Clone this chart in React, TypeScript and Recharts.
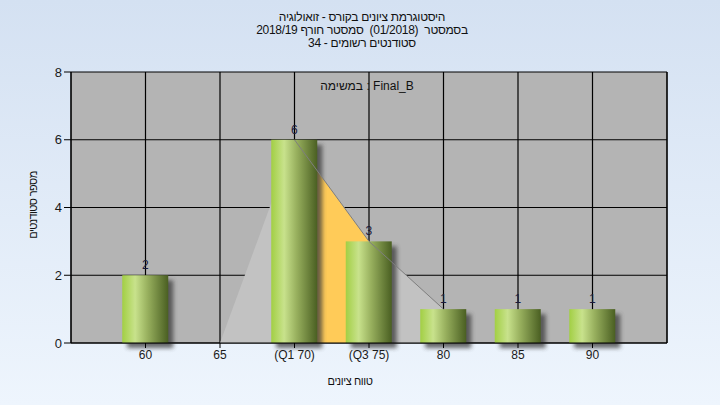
import { ComposedChart, Bar, Area, Line, XAxis, YAxis, CartesianGrid, LabelList } from 'recharts';

// grade buckets and number of students in each
const scores = [60, 65, 70, 75, 80, 85, 90];
const students = [2, 0, 6, 3, 1, 1, 1];
// distribution outline (gray) and the Q1-Q3 band (orange)
const curve = [null, 0, 6, 3, 1, null, null];
const quartileBand = [null, null, 6, 3, null, null, null];
const yTicks = [0, 2, 4, 6, 8];

const titleLines = [
  'היסטוגרמת ציונים בקורס - זואולוגיה',
  'בסמסטר  (01/2018)  סמסטר חורף 2018/19',
  'סטודנטים רשומים - 34',
];
const taskText = 'במשימה : Final_B';
const xLabel = 'טווח ציונים';
const yLabel = 'מספר סטודנטים';

const tickNames: Record<number, string> = { 70: '(Q1 70)', 75: '(Q3 75)' };

const data = scores.map((s, i) => ({
  score: s,
  students: students[i] > 0 ? students[i] : null,
  curve: curve[i],
  band: quartileBand[i],
}));

const FONT = '"Liberation Sans", Arial, sans-serif';

// bar with soft shadow and cylinder-like gradient
const ShadowBar = (props: any) => {
  const { x, y, width, height } = props;
  if (!height || height <= 0) return null;
  return (
    <g>
      <rect x={x + 5} y={y + 5} width={width} height={height} fill="#3a3a3a" opacity={0.75} filter="url(#barShadow)" />
      <rect x={x} y={y} width={width} height={height} fill="url(#barFill)" />
    </g>
  );
};

// plain text label centred on a point
const Caption = ({ text, cx, cy, rotate = 0, size = 12, spacing = 0 }: { text: string; cx: number; cy: number; rotate?: number; size?: number; spacing?: number }) => (
  <div
    style={{
      position: 'absolute',
      left: cx - 200,
      top: cy - 7,
      width: 400,
      height: 14,
      textAlign: 'center',
      direction: 'ltr',
      fontSize: size,
      letterSpacing: spacing,
      lineHeight: '14px',
      color: '#111',
      whiteSpace: 'pre',
      transform: rotate ? `rotate(${rotate}deg)` : undefined,
      pointerEvents: 'none',
    }}
  >
    {text}
  </div>
);

export default function App() {
  return (
    <div style={{ position: 'relative', width: 720, height: 405, background: 'linear-gradient(#d4e1f2, #eef5fd)', fontFamily: FONT }}>
      <style>{'body{margin:0}'}</style>
      <ComposedChart
        width={720}
        height={405}
        data={data}
        margin={{ top: 72, right: 13, bottom: 32, left: 31 }}
      >
        <defs>
          <linearGradient id="barFill" x1="0" y1="0" x2="1" y2="0">
            <stop offset="0%" stopColor="#a2cf44" />
            <stop offset="28%" stopColor="#c8e28c" />
            <stop offset="55%" stopColor="#98b05e" />
            <stop offset="100%" stopColor="#4a5f22" />
          </linearGradient>
          <filter id="barShadow" x="-30%" y="-30%" width="160%" height="160%">
            <feGaussianBlur stdDeviation="2" />
          </filter>
        </defs>
        <CartesianGrid yAxisId="left" stroke="#000" strokeWidth={1.2} fill="#b4b4b4" fillOpacity={1} />
        <XAxis
          dataKey="score"
          type="number"
          domain={[55, 95]}
          ticks={scores}
          tickFormatter={(v: number) => tickNames[v] ?? String(v)}
          stroke="#000"
          tickSize={5}
          tick={{ fill: '#1a1a1a', fontSize: 12, fontFamily: FONT }}
        />
        <YAxis
          yAxisId="left"
          domain={[0, 8]}
          ticks={yTicks}
          width={40}
          stroke="#000"
          tickSize={7}
          tick={{ fill: '#1a1a1a', fontSize: 13, fontFamily: FONT }}
        />
        <YAxis
          yAxisId="right"
          orientation="right"
          domain={[0, 8]}
          ticks={yTicks}
          width={40}
          stroke="#000"
          tickSize={7}
          tick={{ fill: '#1a1a1a', fontSize: 13, fontFamily: FONT }}
        />
        <Area
          yAxisId="left"
          dataKey="curve"
          type="linear"
          fill="#c2c2c2"
          fillOpacity={1}
          stroke="none"
          isAnimationActive={false}
        />
        <Area
          yAxisId="left"
          dataKey="band"
          type="linear"
          fill="#ffcb58"
          fillOpacity={1}
          stroke="none"
          isAnimationActive={false}
        />
        <Line
          yAxisId="left"
          dataKey={(d: any) => (d.score >= 70 ? d.curve : null)}
          type="linear"
          stroke="#7e7e7e"
          strokeWidth={1}
          dot={false}
          isAnimationActive={false}
        />
        <Bar yAxisId="left" dataKey="students" barSize={46} shape={ShadowBar} isAnimationActive={false}>
          <LabelList dataKey="students" position="top" offset={6} fill="#1a1a3a" fontSize={12} fontFamily={FONT} />
        </Bar>
      </ComposedChart>
      {titleLines.map((line, i) => (
        <Caption key={i} text={line} cx={362} cy={17 + i * 13} size={12} spacing={-0.3} />
      ))}
      <Caption text={taskText} cx={367} cy={86} />
      <Caption text={xLabel} cx={350} cy={381} size={11} spacing={-0.4} />
      <Caption text={yLabel} cx={33} cy={205} rotate={-90} size={11} spacing={-0.6} />
    </div>
  );
}
